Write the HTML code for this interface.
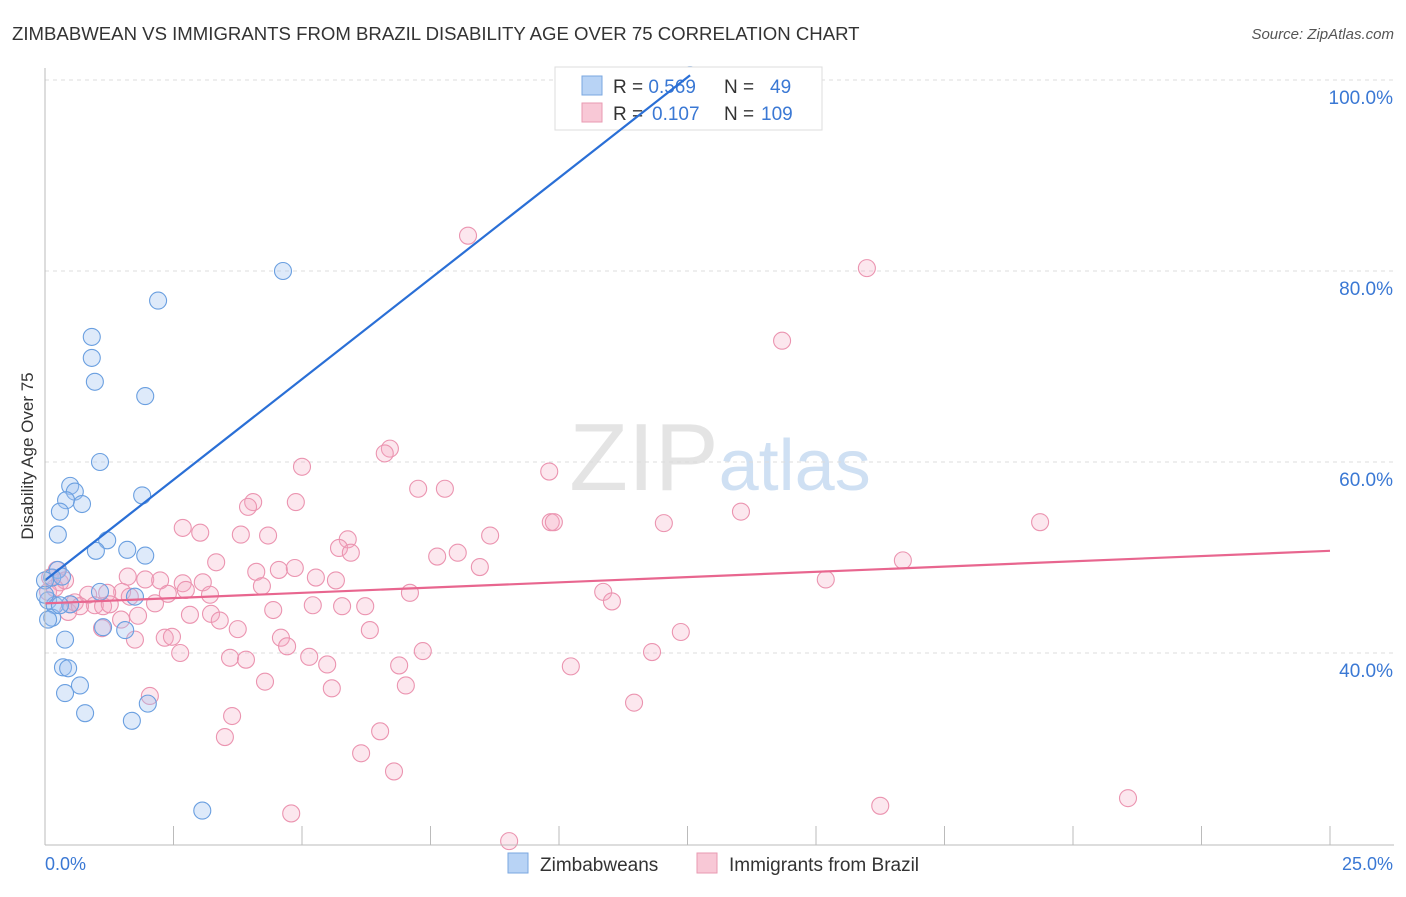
<!DOCTYPE html>
<html><head><meta charset="utf-8"><style>
body{margin:0;background:#fff;font-family:"Liberation Sans",sans-serif;}
svg text{font-family:"Liberation Sans",sans-serif;}
</style></head><body>
<svg id="chart" width="1406" height="892">
<text x="12" y="40" font-size="18.6" fill="#333">ZIMBABWEAN VS IMMIGRANTS FROM BRAZIL DISABILITY AGE OVER 75 CORRELATION CHART</text>
<text x="1394" y="39" font-size="15" fill="#555" font-style="italic" text-anchor="end">Source: ZipAtlas.com</text>
<text x="720" y="490" font-size="96" fill="#e4e4e4" text-anchor="middle" font-family="Liberation Serif">ZIP<tspan fill="#cfe0f3" font-family="Liberation Sans" font-size="72">atlas</tspan></text>
<g id="grid"></g><g id="pts"></g>
<g>
<rect x="555" y="67" width="267" height="63" fill="#fff" stroke="#ddd"/>
<rect x="582" y="76" width="20" height="19" fill="#b8d3f5" stroke="#7aa7e0"/>
<rect x="582" y="103" width="20" height="19" fill="#f8c8d6" stroke="#e89ab2"/>
<text x="613" y="93" font-size="19" fill="#333">R = <tspan fill="#3a78d4">0.569</tspan><tspan x="724">N = </tspan><tspan x="770" fill="#3a78d4">49</tspan></text>
<text x="613" y="120" font-size="19" fill="#333">R = <tspan fill="#3a78d4" x="652">0.107</tspan><tspan x="724">N = </tspan><tspan x="761" fill="#3a78d4">109</tspan></text>
</g>
<g id="lines"></g>
<line x1="45" y1="68" x2="45" y2="845" stroke="#bbb"/>
<line x1="45" y1="845" x2="1394" y2="845" stroke="#bbb"/>
<text transform="translate(33,456) rotate(-90)" font-size="17" fill="#333" text-anchor="middle">Disability Age Over 75</text>
<text x="45" y="870" font-size="18" fill="#3a78d4">0.0%</text>
<text x="1393" y="870" font-size="18" fill="#3a78d4" text-anchor="end">25.0%</text>
<g>
<rect x="508" y="853" width="20" height="20" fill="#b8d3f5" stroke="#7aa7e0"/>
<text x="540" y="871" font-size="19" fill="#333">Zimbabweans</text>
<rect x="697" y="853" width="20" height="20" fill="#f8c8d6" stroke="#e89ab2"/>
<text x="729" y="871" font-size="19" fill="#333">Immigrants from Brazil</text>
</g>
</svg>
<script>
const yTicks=[40,60,80,100];
const yTickLabels=["40.0%","60.0%","80.0%","100.0%"];
const blueX=[0.25,0.25,0.14,0.06,0.19,0.14,0.39,0.35,0.45,0.39,0.68,0.78,1.69,2.00,3.06,4.63,2.20,0.91,0.91,0.97,1.95,1.07,0.49,0.58,0.41,0.29,0.72,1.89,1.21,0.99,1.60,1.95,1.07,1.75,1.13,1.56,0,0.33,0.49,12.55,0.06,0.29,0];
const blueY=[52.4,48.7,47.9,45.5,45.0,43.7,41.4,38.5,38.4,35.8,36.6,33.7,32.9,34.7,23.5,80.0,76.9,73.1,70.9,68.4,66.9,60.0,57.5,56.9,56.0,54.8,55.6,56.5,51.8,50.7,50.8,50.2,46.4,45.9,42.7,42.4,47.6,48.0,45.1,100.5,43.5,45.0,46.1];
const pinkX=[8.23,15.99,14.34,6.71,6.61,5.00,9.81,7.78,7.26,4.05,4.88,3.95,9.84,9.90,12.04,13.54,19.36,2.68,3.02,3.81,4.34,5.89,5.72,5.95,8.66,7.63,8.03,3.33,8.46,16.69,1.61,1.95,2.24,2.68,3.07,4.11,4.55,4.86,5.27,5.66,4.22,2.74,2.39,3.21,1.50,1.21,0.84,0.97,0.49,0.45,1.13,2.14,2.82,3.23,3.40,1.81,1.48,1.11,1.75,2.33,2.47,2.63,3.75,4.44,5.21,5.78,6.23,4.59,4.71,6.32,7.10,10.86,11.03,15.19,12.37,11.81,10.23,7.35,6.89,3.60,3.91,5.49,5.14,4.28,5.58,7.02,2.04,3.64,3.50,6.52,6.15,6.79,11.46,4.79,9.03,16.25,21.07,0.23,0.10,0.29,0.39,0.58,0.68,0.06,0.19,1.26,1.65];
const pinkY=[83.7,80.3,72.7,61.4,60.9,59.5,59.0,57.2,57.2,55.8,55.8,55.3,53.7,53.7,53.6,54.8,53.7,53.1,52.6,52.4,52.3,51.9,51.0,50.5,52.3,50.1,50.5,49.5,49.0,49.7,48.0,47.7,47.6,47.3,47.4,48.5,48.7,48.9,47.9,47.6,47.0,46.6,46.2,46.1,46.4,46.3,46.1,45.0,45.1,44.3,44.9,45.2,44.0,44.1,43.4,43.9,43.5,42.6,41.4,41.6,41.7,40.0,42.5,44.5,45.0,44.9,44.9,41.6,40.7,42.4,46.3,46.4,45.4,47.7,42.2,40.1,38.6,40.2,38.7,39.5,39.3,38.8,39.6,37.0,36.3,36.6,35.5,33.4,31.2,31.8,29.5,27.6,34.8,23.2,20.3,24.0,24.8,48.7,47.9,47.4,47.6,45.3,44.9,46.4,46.8,45.1,45.9];
const blueTrend=[47.6,100.5];const blueTrendX=[0,12.55];
const pinkTrend=[45.2,50.7];const pinkTrendX=[0,25];
const xs=v=>45+v*51.4;
const ys=v=>1035-v*9.55;
const NS="http://www.w3.org/2000/svg";
const grid=document.getElementById('grid');
yTicks.forEach((t,i)=>{
 const l=document.createElementNS(NS,'line');
 l.setAttribute('x1',45);l.setAttribute('x2',1394);l.setAttribute('y1',ys(t));l.setAttribute('y2',ys(t));
 l.setAttribute('stroke','#ddd');l.setAttribute('stroke-dasharray','4,4');
 
 
 grid.appendChild(l);
 const tx=document.createElementNS(NS,'text');
 tx.setAttribute('x',1393);tx.setAttribute('y',ys(t)+24);tx.setAttribute('text-anchor','end');
 tx.setAttribute('font-size','19');tx.setAttribute('fill','#3a78d4');tx.textContent=yTickLabels[i];
 
 
 grid.appendChild(tx);
});
for(let i=1;i<=10;i++){
 const l=document.createElementNS(NS,'line');
 const x=45+i*128.5;
 l.setAttribute('x1',x);l.setAttribute('x2',x);l.setAttribute('y1',826);l.setAttribute('y2',845);l.setAttribute('stroke','#bbb');
 
 
 grid.appendChild(l);
}
const pts=document.getElementById('pts');
function dot(x,y,fill,stroke,name){
 const c=document.createElementNS(NS,'circle');
 c.setAttribute('cx',xs(x));c.setAttribute('cy',ys(y));c.setAttribute('r',8.5);
 c.setAttribute('fill',fill);c.setAttribute('stroke',stroke);c.setAttribute('stroke-width','1.1');
 
 
 pts.appendChild(c);
}
pinkX.forEach((x,i)=>dot(x,pinkY[i],'rgba(244,170,194,0.28)','#eb94b0','brazil-point'));
blueX.forEach((x,i)=>dot(x,blueY[i],'rgba(160,196,240,0.35)','#6a9fe0','zimbabwean-point'));
const lines=document.getElementById('lines');
function ln(xa,ya,col,name){
 const l=document.createElementNS(NS,'line');
 l.setAttribute('x1',xs(xa[0]));l.setAttribute('y1',ys(ya[0]));l.setAttribute('x2',xs(xa[1]));l.setAttribute('y2',ys(ya[1]));
 l.setAttribute('stroke',col);l.setAttribute('stroke-width','2.2');
 
 
 lines.appendChild(l);
}
ln(blueTrendX,blueTrend,'#2a6fd6','zimbabwean-trend-line');
ln(pinkTrendX,pinkTrend,'#e8668f','brazil-trend-line');
</script>
</body></html>
